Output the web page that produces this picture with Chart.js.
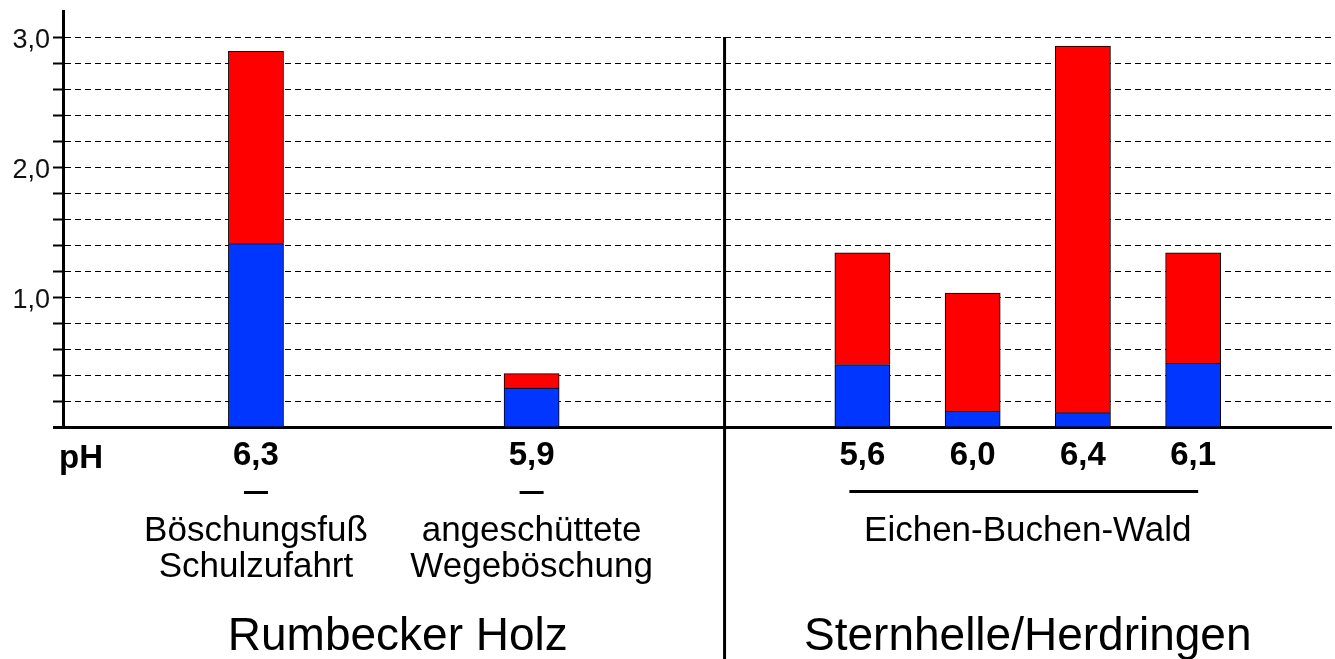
<!DOCTYPE html>
<html lang="de">
<head>
<meta charset="utf-8">
<title>pH und Säulen</title>
<script src="https://cdn.jsdelivr.net/npm/chart.js@4.4.1/dist/chart.umd.min.js"></script>
<style>
  html, body { margin: 0; padding: 0; background: #fff; }
  canvas { display: block; }
</style>
</head>
<body>
<canvas id="grafik" width="1335" height="659"></canvas>
<script>
// Werte je Standort (von links nach rechts)
const phWerte = ['6,3', '5,9', '5,6', '6,0', '6,4', '6,1'];
const anteilBlau = [1.41, 0.30, 0.48, 0.12, 0.11, 0.49];
const anteilRot = [1.48, 0.11, 0.86, 0.91, 2.82, 0.85];

const standortNamen = [['Böschungsfuß', 'Schulzufahrt'], ['angeschüttete', 'Wegeböschung']];
const waldName = 'Eichen-Buchen-Wald';
const gebiete = ['Rumbecker Holz', 'Sternhelle/Herdringen'];

// Raster: 23 Felder, die Säulen stehen in diesen Feldern
const felder = 23;
const feldIndex = [3, 8, 14, 16, 18, 20];
const trennFeld = 11.5;

const schrift = '"Liberation Sans", Arial, sans-serif';

const labels = Array.from({ length: felder }, () => '');
const datenBlau = Array(felder).fill(null);
const datenRot = Array(felder).fill(null);
feldIndex.forEach((f, i) => {
  labels[f] = phWerte[i];
  datenBlau[f] = anteilBlau[i];
  datenRot[f] = anteilRot[i];
});

function rund(v) { return Math.round(v * 10) / 10; }

const beschriftung = {
  id: 'beschriftung',
  afterDraw(chart) {
    const ctx = chart.ctx;
    const x = chart.scales.x;
    const y = chart.scales.y;
    const mitte = feldIndex.map(f => x.getPixelForValue(f));
    const trennX = x.getPixelForValue(trennFeld);

    ctx.save();
    ctx.fillStyle = '#000';
    ctx.strokeStyle = '#000';

    // Trennlinie zwischen den Gebieten
    ctx.lineWidth = 3;
    ctx.beginPath();
    ctx.moveTo(trennX, y.getPixelForValue(3));
    ctx.lineTo(trennX, chart.height);
    ctx.stroke();

    // pH
    ctx.font = 'bold 33px ' + schrift;
    ctx.textAlign = 'left';
    ctx.textBaseline = 'alphabetic';
    ctx.fillText('pH', 59, 468);

    // Striche und Linie unter den Werten
    ctx.fillRect(mitte[0] - 12, 491, 24, 3);
    ctx.fillRect(mitte[1] - 12, 491, 24, 3);
    ctx.fillRect(mitte[2] - 13, 490, mitte[5] - mitte[2] + 18, 3);

    // Standorte
    ctx.font = '35px ' + schrift;
    ctx.textAlign = 'center';
    standortNamen.forEach((zeilen, i) => {
      zeilen.forEach((z, j) => ctx.fillText(z, mitte[i], 541 + j * 36));
    });
    ctx.fillText(waldName, (mitte[2] + mitte[5]) / 2, 541);

    // Gebiete
    ctx.font = '46px ' + schrift;
    ctx.fillText(gebiete[0], (x.left + trennX) / 2 + 4, 650);
    ctx.fillText(gebiete[1], (trennX + x.right) / 2, 650);
    ctx.restore();
  }
};

new Chart(document.getElementById('grafik'), {
  type: 'bar',
  data: {
    labels: labels,
    datasets: [
      { data: datenBlau, backgroundColor: '#0036ff' },
      { data: datenRot, backgroundColor: '#ff0000' }
    ]
  },
  options: {
    responsive: false,
    animation: false,
    layout: { padding: { top: 11, right: 4, left: 0, bottom: 0 } },
    datasets: {
      bar: {
        barPercentage: 1,
        categoryPercentage: 1,
        borderWidth: 1,
        borderColor: '#000',
        borderSkipped: 'start'
      }
    },
    plugins: { legend: { display: false }, tooltip: { enabled: false } },
    scales: {
      x: {
        stacked: true,
        afterFit(s) { s.height = 232; s.paddingLeft = 0; s.paddingRight = 0; },
        grid: { display: false, drawTicks: false },
        border: { color: '#000', width: 3 },
        ticks: {
          autoSkip: false,
          maxRotation: 0,
          padding: 9,
          color: '#000',
          font: { family: schrift, size: 33, weight: 'bold' }
        }
      },
      y: {
        stacked: true,
        min: 0,
        max: 3.2,
        afterFit(s) { s.width = 63; s.paddingTop = 0; s.paddingBottom = 0; },
        ticks: {
          stepSize: 0.2,
          autoSkip: false,
          padding: 3,
          labelOffset: 4,
          color: '#111',
          font: { family: schrift, size: 27 },
          callback(v) {
            const r = rund(v);
            if (r > 0 && r <= 3 && Math.abs(r - Math.round(r)) < 1e-6) return r.toFixed(1).replace('.', ',');
            return '';
          }
        },
        grid: {
          color: c => (rund(c.tick.value) <= 0 || rund(c.tick.value) > 3) ? 'transparent' : '#000',
          lineWidth: 1,
          tickLength: 10,
          tickColor: c => rund(c.tick.value) > 3 ? 'transparent' : '#000',
          tickWidth: c => rund(c.tick.value) <= 0 ? 3 : 2
        },
        border: { color: '#000', width: 3, dash: [6, 4] }
      }
    }
  },
  plugins: [beschriftung]
});
</script>
</body>
</html>
